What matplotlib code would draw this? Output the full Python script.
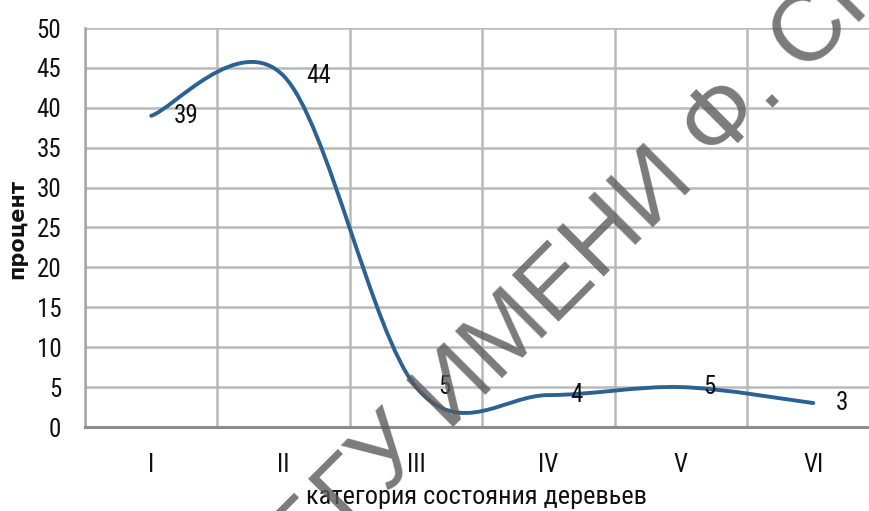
import matplotlib
matplotlib.use("Agg")
import matplotlib.pyplot as plt
import numpy as np
from matplotlib import font_manager
from matplotlib.patches import PathPatch
from matplotlib.path import Path

# ---------------------------------------------------------------------------
# Данные
# ---------------------------------------------------------------------------
categories = ["I", "II", "III", "IV", "V", "VI"]
percent = [39, 44, 5, 4, 5, 3]
y_ticks = [0, 5, 10, 15, 20, 25, 30, 35, 40, 45, 50]

LINE_COLOR = "#2b6293"
GRID_COLOR = "#b9b9b9"


def pick_font(*names: str) -> str:
    available = {f.name for f in font_manager.fontManager.ttflist}
    for n in names:
        if n in available:
            return n
    return "DejaVu Sans"


NARROW = pick_font("Liberation Sans Narrow", "Roboto Condensed", "Liberation Sans")


def smooth_path(x, y) -> Path:
    """Catmull-Rom сглаживание как в Excel, через кубические кривые Безье."""
    pts = np.column_stack([x, y]).astype(float)
    ext = np.vstack([pts[0], pts, pts[-1]])
    verts = [pts[0]]
    codes = [Path.MOVETO]
    for i in range(len(pts) - 1):
        p0, p1, p2, p3 = ext[i], ext[i + 1], ext[i + 2], ext[i + 3]
        verts += [p1 + (p2 - p0) / 6, p2 - (p3 - p1) / 6, p2]
        codes += [Path.CURVE4] * 3
    return Path(verts, codes)


def main() -> None:
    fig = plt.figure(figsize=(8.7, 5.11), dpi=100)
    W, H = 870, 511
    left, right, top, bottom = 85, 879.5, 28, 427
    ax = fig.add_axes([left / W, 1 - bottom / H, (right - left) / W, (bottom - top) / H])

    x = np.arange(len(categories))
    ax.set_xlim(-0.5, len(categories) - 0.5)
    ax.set_ylim(0, 50)

    ax.set_yticks(y_ticks)
    ax.set_xticks(x)
    ax.set_xticklabels(categories, fontsize=18, family=NARROW, color="#111111")
    ax.set_yticklabels([str(v) for v in y_ticks], fontsize=18, family=NARROW, color="#111111")
    ax.tick_params(axis="x", length=0, pad=19)
    ax.tick_params(axis="y", length=0, pad=17)

    # сетка: горизонтальная по делениям, вертикальная между категориями
    ax.set_xticks(np.arange(-0.5, len(categories)), minor=True)
    ax.tick_params(which="minor", length=0)
    ax.grid(True, axis="y", which="major", color=GRID_COLOR, linewidth=1.8)
    ax.grid(True, axis="x", which="minor", color=GRID_COLOR, linewidth=1.8)
    ax.set_axisbelow(True)

    for side in ("top", "right"):
        ax.spines[side].set_visible(False)
    ax.spines["left"].set_color("#a6a6a6")
    ax.spines["left"].set_linewidth(1.8)
    ax.spines["bottom"].set_color("#8c8c8c")
    ax.spines["bottom"].set_linewidth(2.2)

    ax.add_patch(PathPatch(smooth_path(x, percent), fill=False,
                           edgecolor=LINE_COLOR, linewidth=2.8, zorder=4,
                           capstyle="round"))

    for xi, v in zip(x, percent):
        ax.annotate(str(v), (xi, v), xytext=(16, 0), textcoords="offset points",
                    ha="left", va="center", fontsize=18, family=NARROW,
                    color="#111111", zorder=5)

    fig.text(477 / W, 1 - 497 / H, "категория состояния деревьев", ha="center",
             va="center", fontsize=19, family=NARROW, color="#111111")
    fig.text(17 / W, 1 - 229 / H, "процент", rotation=90, ha="center",
             va="center", fontsize=15, fontweight="bold", family="DejaVu Sans",
             color="#111111")

    # водяной знак
    fig.text(305 / W, 1 - 575 / H, "БГУ ИМЕНИ Ф. СКОРИНЫ", rotation=45,
             rotation_mode="anchor", ha="left", va="baseline", fontsize=69,
             family="Liberation Sans", color="#5a5a5a", alpha=0.8, zorder=10)

    fig.savefig("out.png", dpi=100)
    plt.close(fig)


if __name__ == "__main__":
    main()
